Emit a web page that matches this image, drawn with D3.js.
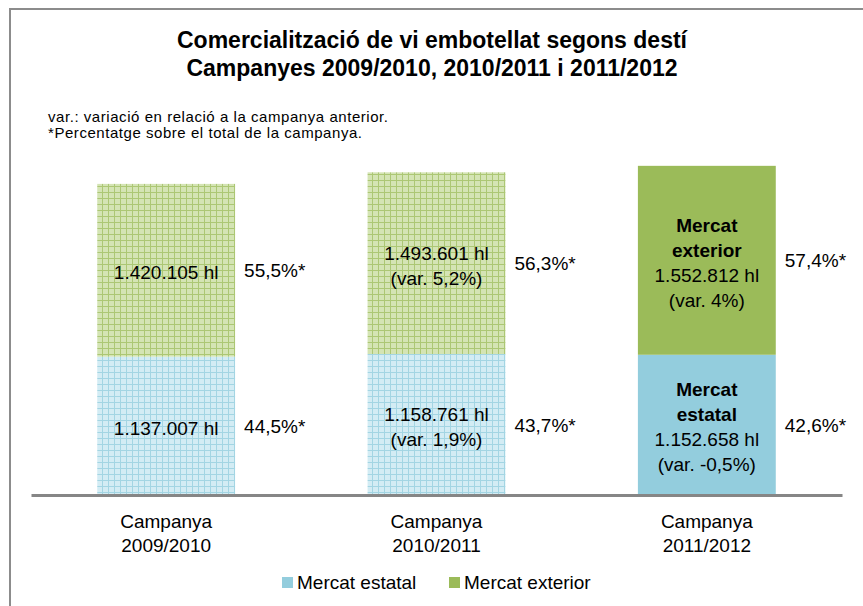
<!DOCTYPE html>
<html>
<head>
<meta charset="utf-8">
<script src="https://cdn.jsdelivr.net/npm/d3@7"></script>
<style>
  body { margin: 0; background: #fff; }
  svg text { font-family: "Liberation Sans", Arial, sans-serif; fill: #000; }
</style>
</head>
<body>
<div id="chart"></div>
<script>
const categories = ['Campanya 2009/2010', 'Campanya 2010/2011', 'Campanya 2011/2012'];
const series = ['Mercat estatal', 'Mercat exterior'];
const estatal = [1137007, 1158761, 1152658];
const exterior = [1420105, 1493601, 1552812];
const estatalLabels = ['1.137.007 hl', '1.158.761 hl', '1.152.658 hl'];
const exteriorLabels = ['1.420.105 hl', '1.493.601 hl', '1.552.812 hl'];
const estatalVar = [null, '(var. 1,9%)', '(var. -0,5%)'];
const exteriorVar = [null, '(var. 5,2%)', '(var. 4%)'];
const estatalPct = ['44,5%*', '43,7%*', '42,6%*'];
const exteriorPct = ['55,5%*', '56,3%*', '57,4%*'];
const highlighted = [false, false, true];

const W = 863, H = 606;
const svg = d3.select('#chart').append('svg')
    .attr('width', W)
    .attr('height', H);

// hatched grid patterns for the older campaigns
const defs = svg.append('defs');
function gridPattern(id, bg, line) {
    const p = defs.append('pattern')
        .attr('id', id)
        .attr('patternUnits', 'userSpaceOnUse')
        .attr('width', 6).attr('height', 6);
    p.append('rect').attr('width', 6).attr('height', 6).attr('fill', bg);
    p.append('path').attr('d', 'M0,0.5H6M0.5,0V6')
        .attr('stroke', line).attr('stroke-width', 1).attr('fill', 'none');
}
gridPattern('gridBlue', '#d3ecf4', '#a3d5e3');
gridPattern('gridGreen', '#d4e4b4', '#acc774');

const solid = { estatal: '#93cddd', exterior: '#9bbb59' };

// outer frame
svg.append('rect')
    .attr('x', 10).attr('y', 9)
    .attr('width', 900).attr('height', 700)
    .attr('fill', 'none')
    .attr('stroke', '#8c8c8c')
    .attr('stroke-width', 2);

// titles
svg.append('text')
    .attr('x', 432).attr('y', 48)
    .attr('text-anchor', 'middle')
    .style('font-size', '23px').style('font-weight', 'bold')
    .text('Comercialització de vi embotellat segons destí');
svg.append('text')
    .attr('x', 432).attr('y', 76)
    .attr('text-anchor', 'middle')
    .style('font-size', '23px').style('font-weight', 'bold')
    .text('Campanyes 2009/2010, 2010/2011 i 2011/2012');

svg.append('text')
    .attr('x', 48).attr('y', 122)
    .attr('textLength', 340)
    .style('font-size', '15px')
    .text('var.: variació en relació a la campanya anterior.');
svg.append('text')
    .attr('x', 48).attr('y', 138)
    .attr('textLength', 314)
    .style('font-size', '15px')
    .text('*Percentatge sobre el total de la campanya.');

const x = d3.scaleBand()
    .domain(categories)
    .range([31, 842])
    .paddingInner(0.49)
    .paddingOuter(0.245);

const y = d3.scaleLinear()
    .domain([0, 3000000])
    .range([495, 130]);

const rows = categories.map((c, i) => ({
    cat: c, i,
    estatal: estatal[i], exterior: exterior[i]
}));

const stack = d3.stack().keys(['estatal', 'exterior'])(rows);

const g = svg.append('g');
stack.forEach(layer => {
    g.selectAll(null)
        .data(layer)
        .enter().append('rect')
        .attr('x', d => x(d.data.cat))
        .attr('y', d => y(d[1]))
        .attr('width', x.bandwidth())
        .attr('height', d => y(d[0]) - y(d[1]))
        .attr('fill', d => highlighted[d.data.i]
            ? solid[layer.key]
            : (layer.key === 'estatal' ? 'url(#gridBlue)' : 'url(#gridGreen)'));
});

// axis baseline
const axis = svg.append('g')
    .attr('transform', 'translate(0,' + y(0) + ')')
    .call(d3.axisBottom(x).tickSize(0).tickFormat(''));
axis.select('.domain').attr('stroke', '#868686').attr('stroke-width', 3);

// category labels (two lines)
categories.forEach(c => {
    const parts = c.split(' ');
    const t = svg.append('text')
        .attr('text-anchor', 'middle')
        .style('font-size', '19px');
    parts.forEach((p, k) => {
        t.append('tspan')
            .attr('x', x(c) + x.bandwidth() / 2)
            .attr('y', 528 + k * 24)
            .text(p);
    });
});

// labels inside and beside the bars
const lineH = 25;
function segLabel(i, lo, hi, key) {
    const cx = x(categories[i]) + x.bandwidth() / 2;
    const cy = (y(lo) + y(hi)) / 2 + 2;
    const lines = [];
    if (highlighted[i]) {
        lines.push(['Mercat', true]);
        lines.push([key === 'estatal' ? 'estatal' : 'exterior', true]);
    }
    lines.push([key === 'estatal' ? estatalLabels[i] : exteriorLabels[i], false]);
    const v = key === 'estatal' ? estatalVar[i] : exteriorVar[i];
    if (v) lines.push([v, false]);
    const t = svg.append('text')
        .attr('text-anchor', 'middle')
        .style('font-size', '19px');
    const top = cy - (lines.length - 1) * lineH / 2 + 7;
    lines.forEach((l, k) => {
        t.append('tspan')
            .attr('x', cx)
            .attr('y', top + k * lineH)
            .style('font-weight', l[1] ? 'bold' : 'normal')
            .text(l[0]);
    });
    svg.append('text')
        .attr('x', x(categories[i]) + x.bandwidth() + 9)
        .attr('y', cy + 5)
        .style('font-size', '19px')
        .text(key === 'estatal' ? estatalPct[i] : exteriorPct[i]);
}
rows.forEach((r, i) => {
    segLabel(i, 0, r.estatal, 'estatal');
    segLabel(i, r.estatal, r.estatal + r.exterior, 'exterior');
});

// legend
const legend = svg.append('g').attr('transform', 'translate(282,577)');
const legendColors = [solid.estatal, solid.exterior];
const legendX = [0, 167];
series.forEach((s, k) => {
    legend.append('rect')
        .attr('x', legendX[k]).attr('y', 0)
        .attr('width', 11).attr('height', 11)
        .attr('fill', legendColors[k]);
    legend.append('text')
        .attr('x', legendX[k] + 15).attr('y', 12)
        .style('font-size', '19px')
        .text(s);
});
</script>
</body>
</html>
